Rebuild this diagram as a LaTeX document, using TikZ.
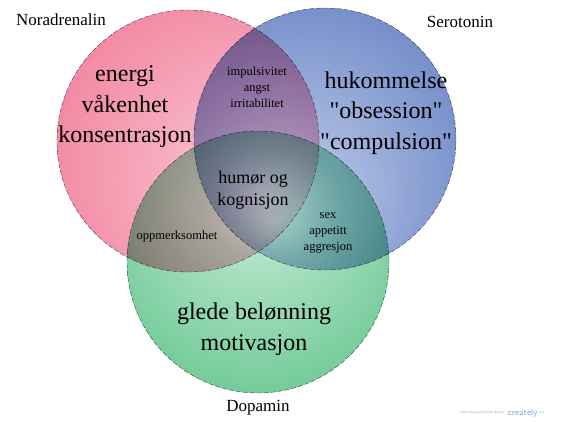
\documentclass[tikz,border=0pt]{standalone}
\usepackage{fontspec}
\setmainfont{Liberation Serif}
\newfontfamily\rawserif{Liberation Serif}
\usetikzlibrary{positioning}
\definecolor{norpink}{RGB}{240,115,146}
\definecolor{norlight}{RGB}{253,224,232}
\definecolor{serblue}{RGB}{92,122,192}
\definecolor{serlight}{RGB}{214,224,244}
\definecolor{dopgreen}{RGB}{92,194,136}
\definecolor{doplight}{RGB}{214,242,224}
\definecolor{rimgray}{RGB}{85,85,85}
\definecolor{crblue}{RGB}{60,130,200}

% gradients, light spot towards the middle of the diagram
\pgfdeclareradialshading{norshade}{\pgfpoint{22bp}{-14bp}}{color(0bp)=(norlight); color(12bp)=(norlight!60!norpink); color(36bp)=(norpink); color(50bp)=(norpink)}
\pgfdeclareradialshading{sershade}{\pgfpoint{-10bp}{-16bp}}{color(0bp)=(serlight); color(10bp)=(serlight!60!serblue); color(34bp)=(serblue); color(50bp)=(serblue)}
\pgfdeclareradialshading{dopshade}{\pgfpoint{0bp}{14bp}}{color(0bp)=(doplight); color(10bp)=(doplight!60!dopgreen); color(32bp)=(dopgreen); color(50bp)=(dopgreen)}

\tikzset{
	setcircle/.style={circle,minimum size=262pt,inner sep=0pt,draw=rimgray,dash pattern=on 5pt off 2pt,blend mode=multiply,fill opacity=0.88},
	setname/.style={font=\fontsize{17}{20}\selectfont},
	biglbl/.style={align=center,font=\fontsize{24}{30.5}\selectfont},
	midlbl/.style={align=center,font=\fontsize{18}{22}\selectfont},
	smalllbl/.style={align=center,font=\fontsize{12.5}{16}\selectfont},
}
\newcommand{\qq}[1]{{\rawserif"}#1{\rawserif"}}

\begin{document}
\begin{tikzpicture}[x=1pt,y=-1pt]
				\useasboundingbox (0,0) rectangle (562,421);
				% circles
				\node[setcircle,shading=norshade] (nor) at (188,141) {};
				\node[setcircle,shading=sershade] (ser) at (325,139) {};
				\node[setcircle,shading=dopshade] (dop) at (258,262) {};
				% set names
				\node[setname] (norname) at (61,20) {Noradrenalin};
				\node[setname] (sername) at (460,22) {Serotonin};
				\node[setname] (dopname) at (258,408) {Dopamin};
				% single regions
				\node[biglbl] (norlbl) at (125,107) {energi\\våkenhet\\konsentrasjon};
				\node[biglbl] (serlbl) at (386,113) {hukommelse\\\qq{obsession}\\\qq{compulsion}};
				\node[biglbl] (doplbl) at (254,329) {glede belønning\\motivasjon};
				% overlaps
				\node[smalllbl] (norser) at (257,87) {impulsivitet\\angst\\irritabilitet};
				\node[smalllbl] (nordop) at (177,236) {oppmerksomhet};
				\node[smalllbl] (serdop) at (328,233) {sex\\appetitt\\aggresjon};
				\node[midlbl] (alle) at (253,190) {humør og\\kognisjon};
				% watermark
				\node[font=\fontsize{3.5}{4}\selectfont,text=gray!70] (mark) at (482,413) {(online diagramming \& design)};
				\node[right=0pt of mark,font=\sffamily\fontsize{9}{10}\selectfont,text=crblue!70,inner sep=0pt] (crea) {creately};
				\node[right=0pt of crea,font=\fontsize{3}{4}\selectfont,text=gray!70,inner sep=0.5pt] (com) {.com};
			\end{tikzpicture}
\end{document}
